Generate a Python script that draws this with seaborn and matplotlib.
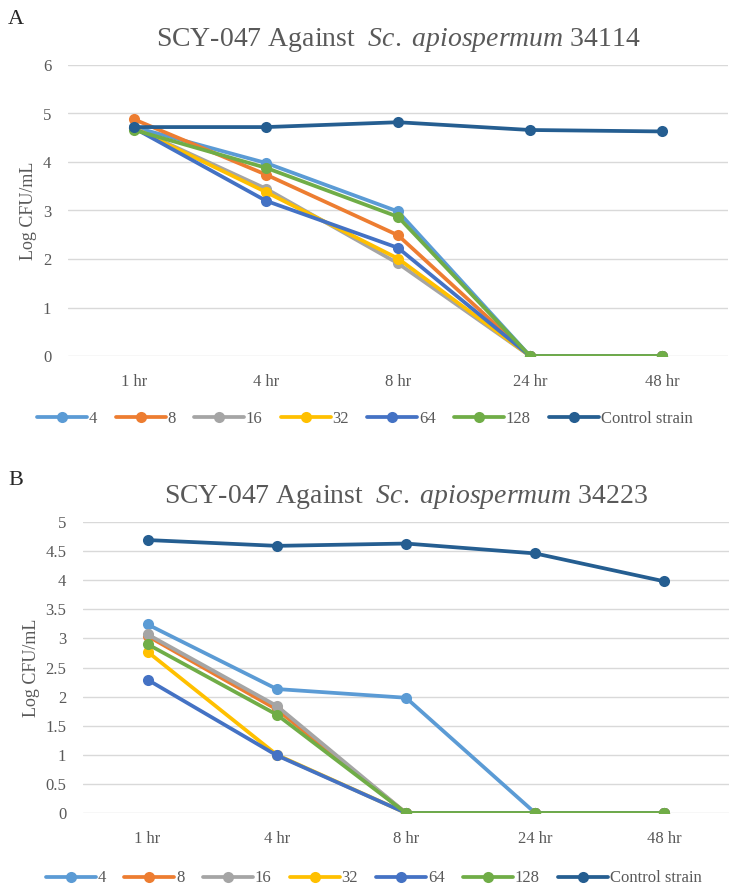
import seaborn as sns
import pandas as pd
import matplotlib.pyplot as plt

times = ['1 hr', '4 hr', '8 hr', '24 hr', '48 hr']
series_names = ['4', '8', '16', '32', '64', '128', 'Control strain']
colors = ['#5B9BD5', '#ED7D31', '#A5A5A5', '#FFC000', '#4472C4', '#70AD47', '#255E91']

# panel A, strain 34114
a_4 = [4.72, 3.98, 2.98, 0, 0]
a_8 = [4.88, 3.74, 2.49, 0, 0]
a_16 = [4.70, 3.45, 1.91, 0, 0]
a_32 = [4.70, 3.38, 2.01, 0, 0]
a_64 = [4.70, 3.20, 2.23, 0, 0]
a_128 = [4.66, 3.88, 2.87, 0, 0]
a_ctrl = [4.72, 4.72, 4.82, 4.66, 4.63]

# panel B, strain 34223
b_4 = [3.24, 2.13, 1.98, 0, 0]
b_8 = [3.04, 1.78, 0, 0, 0]
b_16 = [3.07, 1.84, 0, 0, 0]
b_32 = [2.77, 1.00, 0, 0, 0]
b_64 = [2.29, 0.99, 0, 0, 0]
b_128 = [2.90, 1.69, 0, 0, 0]
b_ctrl = [4.69, 4.59, 4.63, 4.46, 3.98]

grey = '#595959'
sns.set_style('white')
plt.rcParams['font.family'] = ['Liberation Serif', 'DejaVu Serif']
plt.rcParams['mathtext.fontset'] = 'custom'
plt.rcParams['mathtext.rm'] = 'Liberation Serif'
plt.rcParams['mathtext.it'] = 'Liberation Serif:italic'


def long_form(cols):
    rows = []
    for name, vals in zip(series_names, cols):
        for t, v in zip(times, vals):
            rows.append({'time': t, 'cfu': v, 'conc': name})
    return pd.DataFrame(rows)


def draw(ax, df, title, ymax, step, leg_y):
    sns.lineplot(data=df, x='time', y='cfu', hue='conc', hue_order=series_names,
                 palette=colors, marker='o', markersize=8, markeredgewidth=0,
                 linewidth=2.7, sort=False, ax=ax, legend=True)
    ax.set_xlim(-0.5, 4.5)
    ax.set_ylim(0, ymax)
    ticks = [i * step for i in range(int(round(ymax / step)) + 1)]
    ax.set_yticks(ticks)
    ax.set_yticklabels([f'{t:g}' for t in ticks])
    ax.yaxis.grid(True, color='#D9D9D9', linewidth=1)
    ax.set_axisbelow(True)
    for s in ax.spines.values():
        s.set_visible(False)
    ax.tick_params(axis='both', length=0, labelsize=12, labelcolor=grey)
    ax.tick_params(axis='y', pad=12)
    ax.tick_params(axis='x', pad=13)
    ax.set_xlabel('')
    ax.set_ylabel('Log CFU/mL', fontsize=13, color=grey, labelpad=4)
    ax.set_title(title, fontsize=20, color=grey, pad=14)
    handles, labels = ax.get_legend_handles_labels()
    ax.get_legend().remove()
    for h in handles:
        h.set_markersize(8)
    leg = ax.legend(handles, labels, loc='center', ncol=7, frameon=False,
                    fontsize=12, handlelength=3.0, handletextpad=0.1,
                    columnspacing=1.1, bbox_to_anchor=(0.45, leg_y))
    for t in leg.get_texts():
        t.set_color(grey)


fig = plt.figure(figsize=(7.33, 8.88), dpi=100)
ax_a = fig.add_axes([68 / 733, 1 - 356 / 888, 660 / 733, 291 / 888])
ax_b = fig.add_axes([83 / 733, 1 - 813 / 888, 646 / 733, 291 / 888])

draw(ax_a, long_form([a_4, a_8, a_16, a_32, a_64, a_128, a_ctrl]),
     r'SCY-047 Against  $\mathit{Sc.\ apiospermum}$ 34114', 6, 1, -0.215)
draw(ax_b, long_form([b_4, b_8, b_16, b_32, b_64, b_128, b_ctrl]),
     r'SCY-047 Against  $\mathit{Sc.\ apiospermum}$ 34223', 5, 0.5, -0.225)

fig.text(8 / 733, 1 - 20 / 888, 'A', fontsize=16, va='center')
fig.text(8 / 733, 1 - 480 / 888, 'B', fontsize=16, va='center')

fig.savefig('out.png', dpi=100, facecolor='white')
